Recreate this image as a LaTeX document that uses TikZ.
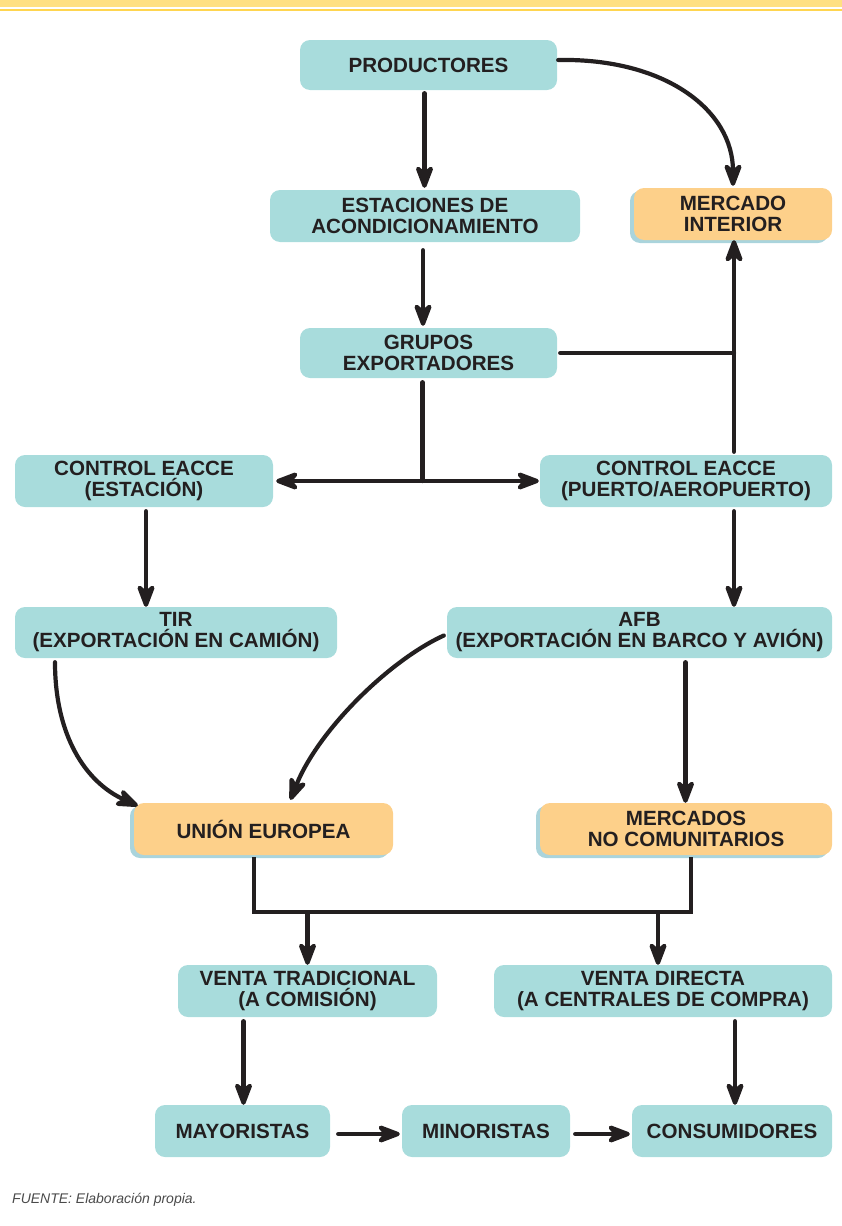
\documentclass[tikz,border=0pt]{standalone}
\usepackage{fontspec}
\setmainfont{Liberation Sans}
\usetikzlibrary{arrows.meta,shadows,calc}
\definecolor{boxteal}{HTML}{A8DCDC}
\definecolor{boxorange}{HTML}{FDD08A}
\definecolor{shadowteal}{HTML}{AAD4DC}
\definecolor{ink}{HTML}{231F20}
\definecolor{bandA}{HTML}{FFE082}
\definecolor{bandB}{HTML}{FFD54F}
\definecolor{srcgray}{HTML}{4A4A4A}
\begin{document}
\begin{tikzpicture}[x=1pt,y=-1pt,
  box/.style={rectangle, rounded corners=10pt, fill=boxteal, draw=none, align=center,
    font=\fontsize{20.6}{21}\selectfont\bfseries, text=ink, inner sep=0pt},
  obox/.style={box, fill=boxorange, copy shadow={shadow xshift=-4pt, shadow yshift=-3pt, fill=shadowteal, draw=none}},
  conn/.style={draw=ink, line width=4.2pt, line cap=round},
  arr/.style={conn, -{Stealth[length=20pt,width=15pt,inset=6pt,round,scale=1.45]}},
  darr/.style={conn, {Stealth[length=20pt,width=15pt,inset=6pt,round,scale=1.45]}-{Stealth[length=20pt,width=15pt,inset=6pt,round,scale=1.45]}}]
\useasboundingbox (0,0) rectangle (842,1226);
\fill[bandA] (0,0) rectangle (842,7);
\fill[bandB] (0,9) rectangle (842,11);

\node[box, minimum width=257pt, minimum height=50pt] (prod) at (428.5,65) {PRODUCTORES};
\node[box, minimum width=310pt, minimum height=52pt] (est) at (425,216) {ESTACIONES DE\\ACONDICIONAMIENTO};
\node[obox, minimum width=198pt, minimum height=52pt] (mi) at (733,214) {MERCADO\\INTERIOR};
\node[box, minimum width=257pt, minimum height=50pt] (grup) at (428.5,353) {GRUPOS\\EXPORTADORES};
\node[box, minimum width=258pt, minimum height=52pt] (ces) at (144,481) {CONTROL EACCE\\(ESTACIÓN)};
\node[box, minimum width=292pt, minimum height=52pt] (cpa) at (686,481) {CONTROL EACCE\\(PUERTO/AEROPUERTO)};
\node[box, minimum width=322pt, minimum height=51pt] (tir) at (176,632.5) {TIR\\(EXPORTACIÓN EN CAMIÓN)};
\node[box, minimum width=385pt, minimum height=51pt] (afb) at (639.5,632.5) {AFB\\(EXPORTACIÓN EN BARCO Y AVIÓN)};
\node[obox, minimum width=259pt, minimum height=52pt] (ue) at (263.5,829) {UNIÓN EUROPEA};
\node[obox, minimum width=292pt, minimum height=52pt] (mnc) at (686,829) {MERCADOS\\NO COMUNITARIOS};
\node[box, minimum width=259pt, minimum height=52pt] (vt) at (307.5,991) {VENTA TRADICIONAL\\(A COMISIÓN)};
\node[box, minimum width=338pt, minimum height=52pt] (vd) at (663,991) {VENTA DIRECTA\\(A CENTRALES DE COMPRA)};
\node[box, minimum width=175pt, minimum height=52pt] (may) at (242.5,1131) {MAYORISTAS};
\node[box, minimum width=168pt, minimum height=52pt] (min) at (486,1131) {MINORISTAS};
\node[box, minimum width=200pt, minimum height=52pt] (cons) at (732,1131) {CONSUMIDORES};

\node[anchor=base west, font=\fontsize{14}{16}\selectfont\itshape, text=srcgray, inner sep=0pt] (src) at (12,1203) {FUENTE: Elaboración propia.};

% connectors
\coordinate (p1) at ([xshift=-4pt]prod.south);
\draw[arr] ([yshift=-3pt]p1) -- ([yshift=2pt]p1 |- est.north);
\coordinate (e1) at ([xshift=-2pt]est.south);
\draw[arr] ([yshift=-8pt]e1) -- ([yshift=2pt]e1 |- grup.north);
\draw[arr] ([xshift=1pt,yshift=5pt]prod.east) .. controls (665,58) and (733,110) .. ([yshift=2pt]mi.north);
\coordinate (c1) at ([xshift=48pt,yshift=3pt]cpa.north);
\draw[arr] (c1) -- (c1 |- mi.south);
\draw[conn] ([xshift=3pt]grup.east) -- (grup.east -| c1);
\coordinate (g1) at ([xshift=-6pt,yshift=-4pt]grup.south);
\draw[conn] (g1) -- (g1 |- ces.east);
\draw[darr] ([xshift=3pt]ces.east) -- ([xshift=-1pt]cpa.west);
\coordinate (c2) at ([xshift=2pt,yshift=-4pt]ces.south);
\draw[arr] (c2) -- (c2 |- tir.north);
\coordinate (c3) at ([xshift=48pt,yshift=-4pt]cpa.south);
\draw[arr] (c3) -- (c3 |- afb.north);
\draw[arr] ([xshift=-121pt,yshift=-4pt]tir.south) .. controls (55,735) and (85,782) .. ([xshift=4pt,yshift=-3pt]ue.north west);
\draw[arr] ([xshift=-3pt,yshift=-3pt]afb.west) .. controls (390,660) and (318,730) .. ([xshift=27pt,yshift=3pt]ue.north);
\coordinate (a2) at ([xshift=46pt,yshift=-4pt]afb.south);
\draw[arr] (a2) -- (a2 |- mnc.north);
\coordinate (u1) at ([xshift=-9.5pt,yshift=-2pt]ue.south);
\coordinate (n1) at ([xshift=5pt,yshift=-2pt]mnc.south);
\coordinate (j) at ($(u1)+(0,55)$);
\draw[conn, line cap=butt, line join=miter] (u1) -- (j) -| (n1);
\draw[arr, line cap=butt] (vt.north |- j) -- (vt.north);
\draw[arr, line cap=butt] ([xshift=-5pt]vd.north |- j) -- ([xshift=-5pt]vd.north);
\coordinate (v1) at ([xshift=-64pt,yshift=-4pt]vt.south);
\draw[arr] (v1) -- (v1 |- may.north);
\coordinate (v2) at ([xshift=72pt,yshift=-4pt]vd.south);
\draw[arr] (v2) -- (v2 |- cons.north);
\draw[arr] ([xshift=8pt,yshift=-3pt]may.east) -- ([xshift=-2pt,yshift=-3pt]min.west);
\draw[arr] ([xshift=5pt,yshift=-3pt]min.east) -- ([xshift=-2pt,yshift=-3pt]cons.west);
\end{tikzpicture}
\end{document}
